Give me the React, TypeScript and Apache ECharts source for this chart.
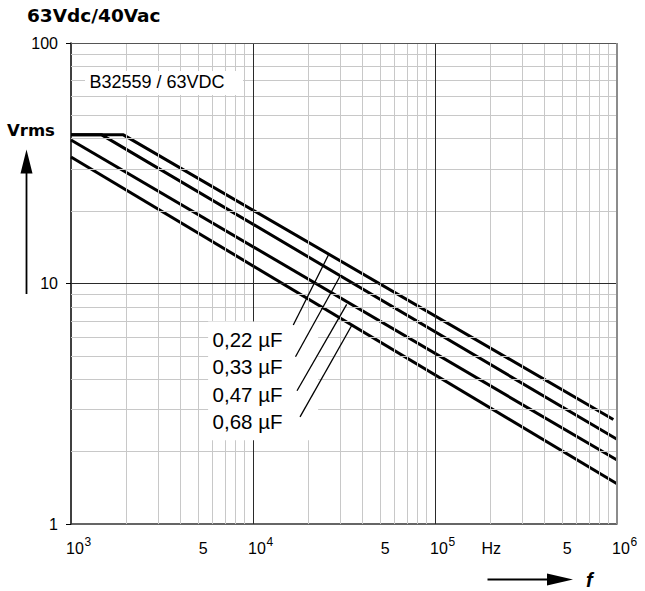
import { useEffect, useRef } from 'react';
import * as echarts from 'echarts';

// ---------- texts ----------
const TITLE = '63Vdc/40Vac';
const PRODUCT_LABEL = 'B32559 / 63VDC';
const Y_TITLE = 'Vrms';
const X_TITLE = 'f';
const X_UNIT = 'Hz';

// ---------- axes ----------
const X_MIN = 1e3;
const X_MAX = 1e6;
const Y_MIN = 1;
const Y_MAX = 100;
const decadeTicks = [1e3, 1e4, 1e5, 1e6];
const decadeExponents = ['3', '4', '5', '6'];
const fiveTicks = [5e3, 5e4, 5e5];
const fiveLabel = '5';
const unitTick = 2e5;
const minorMultipliers = [2, 3, 4, 5, 6, 7, 8, 9];
const xMinorDecades = [1e3, 1e4, 1e5];
const yMinorDecades = [1, 10];
const xMajorLines = [1e4, 1e5];
const yMajorLines = [10];

// ---------- series (frequency Hz, Vrms) ----------
const capacitances = ['0,22 µF', '0,33 µF', '0,47 µF', '0,68 µF'];
const curve022 = [[1000, 41.5], [1940, 41.5], [955000, 2.72]];
const curve033 = [[1000, 41.5], [1475, 41.5], [1000000, 2.25]];
const curve047 = [[1000, 39.5], [1000000, 1.845]];
const curve068 = [[1000, 33.6], [1000000, 1.47]];
const curves = [curve022, curve033, curve047, curve068];

// ---------- annotations (data coordinates) ----------
const labelAnchors = [[6000, 5.85], [6000, 4.5], [6000, 3.46], [6000, 2.66]];
const leaderFrom = [[16650, 6.72], [17120, 4.96], [17450, 3.58], [18130, 2.79]];
const leaderTo = [[26260, 13.36], [30330, 10.85], [32720, 8.19], [34990, 6.72]];

const FONT = 'Liberation Sans';
const WIDE_FONT = 'DejaVu Sans';

export default function App() {
  const ref = useRef<HTMLDivElement>(null);

  useEffect(() => {
    document.body.style.margin = '0';
    const chart = echarts.init(ref.current as HTMLDivElement, null, { renderer: 'svg' });

    const minorX: number[] = [];
    xMinorDecades.forEach((d) => minorMultipliers.forEach((m) => minorX.push(d * m)));
    const minorY: number[] = [];
    yMinorDecades.forEach((d) => minorMultipliers.forEach((m) => minorY.push(d * m)));

    const lineMarkBase = {
      silent: true,
      symbol: ['none', 'none'],
      label: { show: false },
      emphasis: { disabled: true },
    };

    chart.setOption({
      animation: false,
      grid: { left: 71, top: 43, width: 546, height: 481, containLabel: false },
      xAxis: {
        type: 'log',
        logBase: 10,
        min: X_MIN,
        max: X_MAX,
        axisLine: { show: true, onZero: false, lineStyle: { color: '#333', width: 1.5 } },
        axisTick: { show: false },
        axisLabel: { show: false },
        splitLine: { show: false },
      },
      yAxis: {
        type: 'log',
        logBase: 10,
        min: Y_MIN,
        max: Y_MAX,
        axisLine: { show: true, onZero: false, lineStyle: { color: '#000', width: 1.5 } },
        axisTick: { show: true, length: 5, lineStyle: { color: '#000', width: 1 } },
        axisLabel: { color: '#000', fontFamily: FONT, fontSize: 16, margin: 13 },
        splitLine: { show: false },
      },
      series: [
        {
          type: 'line',
          data: [],
          silent: true,
          z: 1,
          markLine: {
            ...lineMarkBase,
            lineStyle: { color: '#c8c8c8', width: 1, type: 'solid' },
            data: [...minorX.map((v) => ({ xAxis: v })), ...minorY.map((v) => ({ yAxis: v }))],
          },
        },
        {
          type: 'line',
          data: [],
          silent: true,
          z: 2,
          markLine: {
            ...lineMarkBase,
            lineStyle: { color: '#2a2a2a', width: 1, type: 'solid' },
            data: [
              ...xMajorLines.map((v) => ({ xAxis: v })),
              ...yMajorLines.map((v) => ({ yAxis: v })),
              { yAxis: Y_MAX, lineStyle: { color: '#555', width: 1, type: 'solid' } },
              { xAxis: X_MAX, lineStyle: { color: '#8c8c8c', width: 2, type: 'solid' } },
            ],
          },
        },
        ...curves.map((c, i) => ({
          type: 'line',
          name: capacitances[i],
          data: c,
          symbol: 'none',
          showSymbol: false,
          silent: true,
          z: 3,
          lineStyle: { color: '#000', width: 3 },
        })),
      ],
    });

    const px = (p: number[]) => chart.convertToPixel({ gridIndex: 0 }, p) as number[];
    const bottomY = px([X_MIN, Y_MIN])[1];

    const graphics: any[] = [];
    const txt = (x: number, y: number, text: string, style: any, z = 10) =>
      graphics.push({
        type: 'text',
        x,
        y,
        z,
        silent: true,
        style: { text, fill: '#000', verticalAlign: 'middle', align: 'left', fontFamily: FONT, ...style },
      });

    // title
    txt(27, 15, TITLE, { fontFamily: WIDE_FONT, fontWeight: 'bold', fontSize: 18.5 });

    // product box
    graphics.push({ type: 'rect', z: 9, silent: true, shape: { x: 85, y: 71, width: 158, height: 24 }, style: { fill: '#fff' } });
    txt(89.5, 82, PRODUCT_LABEL, { fontSize: 18 });

    // y title + arrow
    txt(7, 130, Y_TITLE, { fontFamily: WIDE_FONT, fontWeight: 'bold', fontSize: 16.5 });
    graphics.push({ type: 'line', z: 10, silent: true, shape: { x1: 26.5, y1: 294, x2: 26.5, y2: 172 }, style: { stroke: '#000', lineWidth: 1.8 } });
    graphics.push({ type: 'polygon', z: 10, silent: true, shape: { points: [[26.5, 149.5], [20.5, 173.5], [32.5, 173.5]] }, style: { fill: '#000' } });

    // x title + arrow
    graphics.push({ type: 'line', z: 10, silent: true, shape: { x1: 487.5, y1: 579.5, x2: 548, y2: 579.5 }, style: { stroke: '#000', lineWidth: 1.8 } });
    graphics.push({ type: 'polygon', z: 10, silent: true, shape: { points: [[573, 579.5], [547, 573.5], [547, 585.5]] }, style: { fill: '#000' } });
    txt(586, 579.5, X_TITLE, { fontWeight: 'bold', fontStyle: 'italic', fontSize: 20 });

    // x tick labels
    decadeTicks.forEach((v, i) => {
      const x = px([v, Y_MIN])[0] - 5;
      txt(x, bottomY + 24.8, '10', { fontSize: 16 });
      txt(x + 18.5, bottomY + 17.5, decadeExponents[i], { fontSize: 12 });
    });
    fiveTicks.forEach((v) => {
      const x = px([v, Y_MIN])[0] + 5;
      txt(x, bottomY + 24.8, fiveLabel, { fontSize: 16, align: 'center' });
    });
    txt(px([unitTick, Y_MIN])[0] + 1.5, bottomY + 24.8, X_UNIT, { fontSize: 16, align: 'center' });

    // capacitance labels box
    const first = px(labelAnchors[0]);
    const last = px(labelAnchors[labelAnchors.length - 1]);
    graphics.push({
      type: 'rect',
      z: 9,
      silent: true,
      shape: { x: first[0] - 4.5, y: first[1] - 18, width: 110, height: last[1] - first[1] + 36.5 },
      style: { fill: '#fff' },
    });
    labelAnchors.forEach((a, i) => {
      const p = px(a);
      txt(p[0], p[1], capacitances[i], { fontSize: 20.5 });
    });
    leaderFrom.forEach((a, i) => {
      const p1 = px(a);
      const p2 = px(leaderTo[i]);
      graphics.push({
        type: 'line',
        z: 11,
        silent: true,
        shape: { x1: p1[0], y1: p1[1], x2: p2[0], y2: p2[1] },
        style: { stroke: '#000', lineWidth: 1.3 },
      });
    });

    chart.setOption({ graphic: graphics });

    return () => chart.dispose();
  }, []);

  return <div ref={ref} style={{ width: 645, height: 591 }} />;
}
